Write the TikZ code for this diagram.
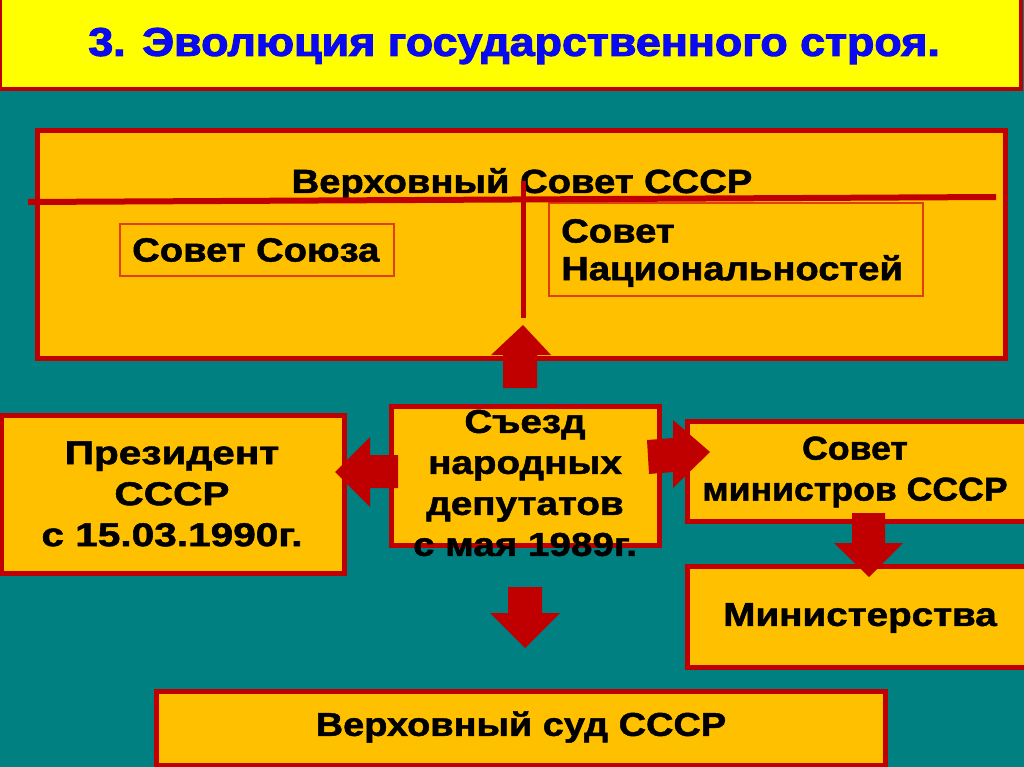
\documentclass[tikz,border=0pt]{standalone}
\usepackage{fontspec}
\setmainfont{Liberation Sans}[FakeBold=1.4]
\newfontfamily\titlefont{Liberation Sans}[FakeBold=2.5]
\usetikzlibrary{fit}
\definecolor{tealbg}{HTML}{008080}
\definecolor{orangefill}{HTML}{FFC000}
\definecolor{darkred}{HTML}{C00000}
\definecolor{thinred}{HTML}{E04010}
\definecolor{titleyellow}{HTML}{FFFF00}
\definecolor{titleblue}{HTML}{0A0AF0}
\begin{document}
\begin{tikzpicture}[x=1pt,y=-1pt,
  box/.style={draw=darkred, line width=5pt, fill=orangefill, inner sep=0pt},
  thinbox/.style={draw=thinred, line width=1.2pt, inner sep=0pt},
  txt/.style={font=\bfseries\fontsize{33}{41}\selectfont, align=center, inner sep=0pt, xscale=1.17},
  ntxt/.style={font=\bfseries\fontsize{33.5}{40}\selectfont, inner sep=0pt, xscale=1.14},
  barrow/.style={fill=darkred}]
\useasboundingbox (0,0) rectangle (1024,767);
\fill[tealbg] (0,0) rectangle (1024,767);
% title band
\node[fit={(0,-6) (1021,89)}, draw=darkred, fill=titleyellow, line width=4pt, inner sep=0pt] (band) {};
\node[font=\titlefont\bfseries\fontsize{40}{40}\selectfont, text=titleblue, inner sep=0pt, xscale=1.12] (title) at (514,46) {3. Эволюция государственного строя.};
% Supreme Soviet
\node[box, fit={(37,131) (1005,358)}] (vs) {};
\node[ntxt] (vstext) at (522,184) {Верховный Совет СССР};
\node[thinbox, fit={(120,224) (394,276)}] (ss) {};
\node[ntxt, anchor=west] (sstext) at (132,250) {Совет Союза};
\node[thinbox, fit={(549,203) (923,296)}] (sn) {};
\node[ntxt, anchor=west] (sntext1) at (561,231) {Совет};
\node[ntxt, anchor=west] (sntext2) at (561,271) {Национальностей};
\coordinate (hl) at (28,202);
\coordinate (hr) at (996,197);
\draw[darkred, line width=6pt] (hl) -- (hr);
\coordinate (vt) at (523,181);
\coordinate (vb) at (523,318);
\draw[darkred, line width=5pt] (vt) -- (vb);
% Congress
\node[box, fit={(391,406) (659,545)}] (sz) {};
\node[txt] (sztext) at (525,483) {Съезд\\народных\\депутатов\\с мая 1989г.};
% President
\node[box, fit={(1,415) (344,573)}] (pr) {};
\node[txt, xscale=1.23/1.17] (prtext) at (172,494) {Президент\\СССР\\с 15.03.1990г.};
% Council of ministers
\node[box, fit={(687,421) (1026,521)}] (sm) {};
\node[txt, xscale=1.08/1.17] (smtext) at (855,472) {Совет\\министров СССР};
% Ministries
\node[box, fit={(687,566) (1026,667)}] (mn) {};
\node[txt] (mntext) at (860,618) {Министерства};
% Supreme Court
\node[box, fit={(156,691) (885,765)}] (vsd) {};
\node[txt, xscale=1.15/1.17] (vsdtext) at (521,727) {Верховный суд СССР};
% block arrows
\fill[barrow] (503,388) -- (503,355) -- (491,355) -- (523,325) -- (551,355) -- (537,355) -- (537,388) -- cycle;
\fill[barrow] (398,455) -- (370,455) -- (370,437) -- (335,472) -- (370,507) -- (370,488) -- (398,488) -- cycle;
\fill[barrow] (647,440) -- (673,438) -- (673,420) -- (710,452) -- (673,488) -- (673,472) -- (649,474) -- cycle;
\fill[barrow] (852,513) -- (885,513) -- (885,543) -- (903,543) -- (869,577) -- (834,543) -- (852,543) -- cycle;
\fill[barrow] (508,587) -- (542,587) -- (542,613) -- (560,613) -- (525,648) -- (490,613) -- (508,613) -- cycle;
\end{tikzpicture}
\end{document}
